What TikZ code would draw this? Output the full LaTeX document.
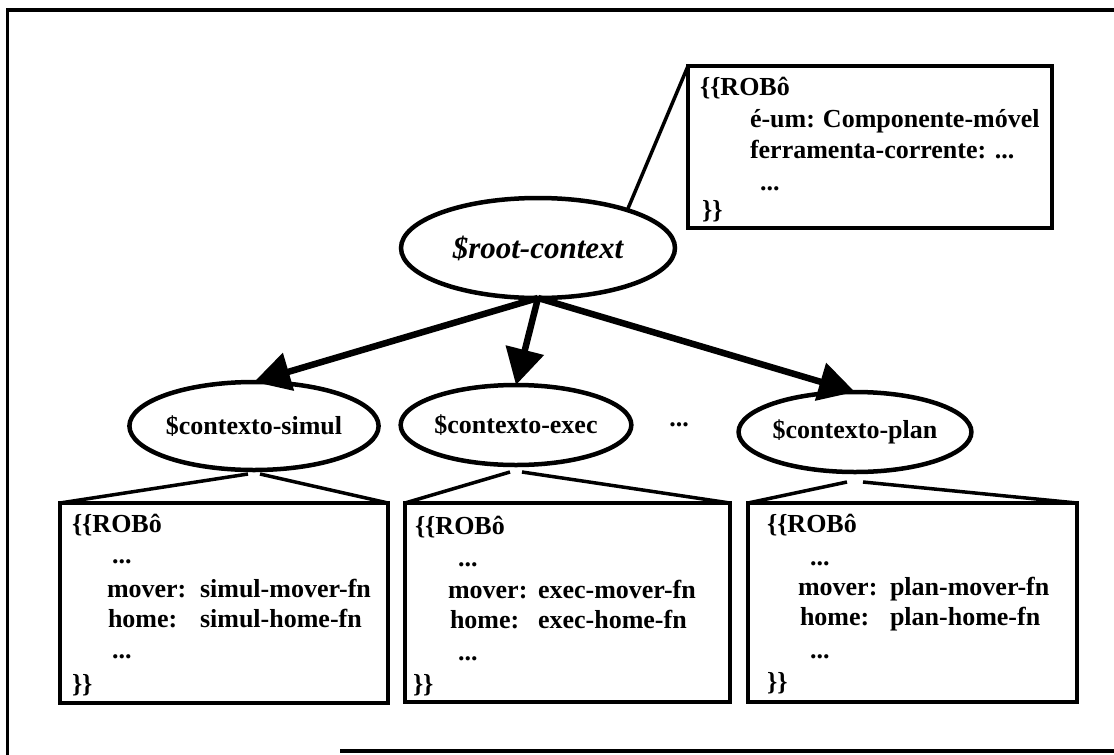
\documentclass[tikz,border=0pt]{standalone}
\usepackage{fontspec}
\setmainfont{Liberation Serif}
\usetikzlibrary{shapes.geometric,arrows.meta}
\begin{document}
\begin{tikzpicture}[x=1pt,y=-1pt,
  every node/.style={inner sep=0pt, outer sep=0pt},
  txt/.style={anchor=base west, font=\fontsize{26}{31}\selectfont\bfseries},
  ctx/.style={draw, ellipse, line width=4.5pt, font=\fontsize{26}{31}\selectfont\bfseries},
  slotbox/.style={draw, rectangle, line width=3.5pt},
  link/.style={line width=3.5pt},
  arr/.style={line width=6.5pt, -{Triangle[length=36pt,width=38pt]}},
  frameline/.style={line width=3.5pt}]

\useasboundingbox (0,0) rectangle (1114,755);

% page frame
\draw[frameline] (1114,10) -- (7.5,10) -- (7.5,755);
\draw[frameline] (340,751) -- (1114,751);

% contexts
\node[ctx, minimum width=274pt, minimum height=100pt,
      font=\fontsize{31}{37}\selectfont\bfseries\itshape] (root) at (538,248) {\$root-context};
\node[ctx, minimum width=218pt, minimum height=88pt] (simul) at (254,426) {\$contexto-simul};
\node[ctx, minimum width=224pt, minimum height=80pt] (exec) at (516,425) {\$contexto-exec};
\node[ctx, minimum width=220pt, minimum height=80pt] (plan) at (855,432) {\$contexto-plan};
\node[font=\fontsize{26}{31}\selectfont\bfseries] (more) at (679,425) {...};

% inheritance arrows
\draw[arr] (root.south) -- (simul.north);
\draw[arr] (root.south) -- (exec.north);
\draw[arr] (root.south) -- (plan.north);

% frame boxes
\node[slotbox, minimum width=364pt, minimum height=162pt] (tbox) at (870,147) {};
\node[slotbox, minimum width=328pt, minimum height=200pt] (sbox) at (224,603) {};
\node[slotbox, minimum width=325pt, minimum height=199pt] (ebox) at (567.5,602.5) {};
\node[slotbox, minimum width=329pt, minimum height=199pt] (pbox) at (912.5,602.5) {};

% callout lines
\draw[link] (root.23) -- (tbox.north west);
\draw[link] ([shift={(-6pt,-4pt)}]simul.south) -- (sbox.north west);
\draw[link] ([shift={(6pt,-4pt)}]simul.south) -- (sbox.north east);
\draw[link] ([shift={(-6pt,-7pt)}]exec.south) -- (ebox.north west);
\draw[link] ([shift={(6pt,-7pt)}]exec.south) -- (ebox.north east);
\draw[link] ([shift={(-8pt,-10pt)}]plan.south) -- (pbox.north west);
\draw[link] ([shift={(8pt,-10pt)}]plan.south) -- (pbox.north east);

% root frame
\node[txt] (t1) at (700,95) {\{\{ROBô};
\node[txt] (t2) at (750,127) {é-um:};
\node[txt, xshift=8pt] (t3) at (t2.base east) {Componente-móvel};
\node[txt] (t4) at (750,158) {ferramenta-corrente: ...};
\node[txt] (t5) at (760,190) {...};
\node[txt] (t6) at (702,218) {\}\}};

% simul frame
\node[txt] (s1) at (72,532) {\{\{ROBô};
\node[txt] (s2) at (112,563) {...};
\node[txt] (s3) at (107,597) {mover:};
\node[txt] (s4) at (200,597) {simul-mover-fn};
\node[txt] (s5) at (108,627) {home:};
\node[txt] (s6) at (200,627) {simul-home-fn};
\node[txt] (s7) at (112,658) {...};
\node[txt] (s8) at (72,692) {\}\}};

% exec frame
\node[txt] (e1) at (415,534) {\{\{ROBô};
\node[txt] (e2) at (458,566) {...};
\node[txt] (e3) at (448,598) {mover:};
\node[txt] (e4) at (538,598) {exec-mover-fn};
\node[txt] (e5) at (450,628) {home:};
\node[txt] (e6) at (538,628) {exec-home-fn};
\node[txt] (e7) at (458,660) {...};
\node[txt] (e8) at (413,692) {\}\}};

% plan frame
\node[txt] (p1) at (767,532) {\{\{ROBô};
\node[txt] (p2) at (810,565) {...};
\node[txt] (p3) at (798,595) {mover:};
\node[txt] (p4) at (890,595) {plan-mover-fn};
\node[txt] (p5) at (800,625) {home:};
\node[txt] (p6) at (890,625) {plan-home-fn};
\node[txt] (p7) at (810,658) {...};
\node[txt] (p8) at (767,690) {\}\}};
\end{tikzpicture}
\end{document}
